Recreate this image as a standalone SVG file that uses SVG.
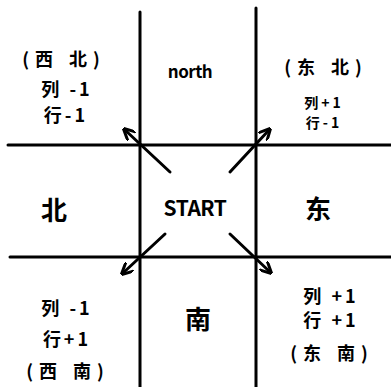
<svg xmlns="http://www.w3.org/2000/svg" width="391" height="387" viewBox="0 0 391 387">
<style>
.ln{stroke:#000;stroke-width:3;fill:none;stroke-linecap:round}
.ar{stroke:#000;stroke-width:3;fill:none;stroke-linecap:round}
text{font-family:"Noto Sans CJK SC","Liberation Sans",sans-serif;font-weight:bold;fill:#000;text-anchor:middle;dominant-baseline:central}
.s{font-size:18px;letter-spacing:3px}
.p{font-size:18px;letter-spacing:6px}
.ne{font-size:14px;letter-spacing:3px}
.m{font-size:26px}
</style>
<defs>
<marker id="ah" viewBox="0 0 10 10" refX="8" refY="5" markerWidth="4" markerHeight="4" orient="auto" markerUnits="strokeWidth">
<path d="M0,0 L10,5 L0,10" fill="none" stroke="#000" stroke-width="2.5"/>
</marker>
</defs>
<rect width="391" height="387" fill="#fff"/>
<g id="grid">
<line class="ln" x1="140" y1="12" x2="140" y2="387"/>
<line class="ln" x1="256" y1="8" x2="256" y2="387"/>
<line class="ln" x1="8" y1="145" x2="391" y2="145"/>
<line class="ln" x1="10" y1="257" x2="391" y2="257"/>
</g>
<g id="connectors">
<line class="ar" x1="170" y1="172" x2="125" y2="130" marker-end="url(#ah)"/>
<line class="ar" x1="230" y1="172" x2="269" y2="130" marker-end="url(#ah)"/>
<line class="ar" x1="165" y1="234" x2="123" y2="273" marker-end="url(#ah)"/>
<line class="ar" x1="230" y1="234" x2="270" y2="272" marker-end="url(#ah)"/>
</g>
<g id="nw">
<text class="p" x="64" y="58">(西 北)</text>
<text class="s" x="67" y="88">列 -1</text>
<text class="s" x="66" y="114">行-1</text>
</g>
<g id="n">
<text x="190" y="70" font-size="17" font-weight="900" letter-spacing="-0.5">north</text>
</g>
<g id="ne">
<text class="p" x="326" y="66">(东 北)</text>
<text class="ne" x="324" y="102">列+1</text>
<text class="ne" x="324" y="122">行-1</text>
</g>
<g id="w">
<text class="m" x="54" y="208">北</text>
</g>
<g id="start">
<text x="195" y="207" font-size="21" letter-spacing="-0.5">START</text>
</g>
<g id="e">
<text class="m" x="318" y="207">东</text>
</g>
<g id="sw">
<text class="s" x="67" y="307">列 -1</text>
<text class="s" x="67" y="338">行+1</text>
<text class="p" x="68" y="370">(西 南)</text>
</g>
<g id="s">
<text class="m" x="198" y="317">南</text>
</g>
<g id="se">
<text class="s" x="331" y="295">列 +1</text>
<text class="s" x="331" y="319">行 +1</text>
<text class="p" x="332" y="352">(东 南)</text>
</g>
</svg>
